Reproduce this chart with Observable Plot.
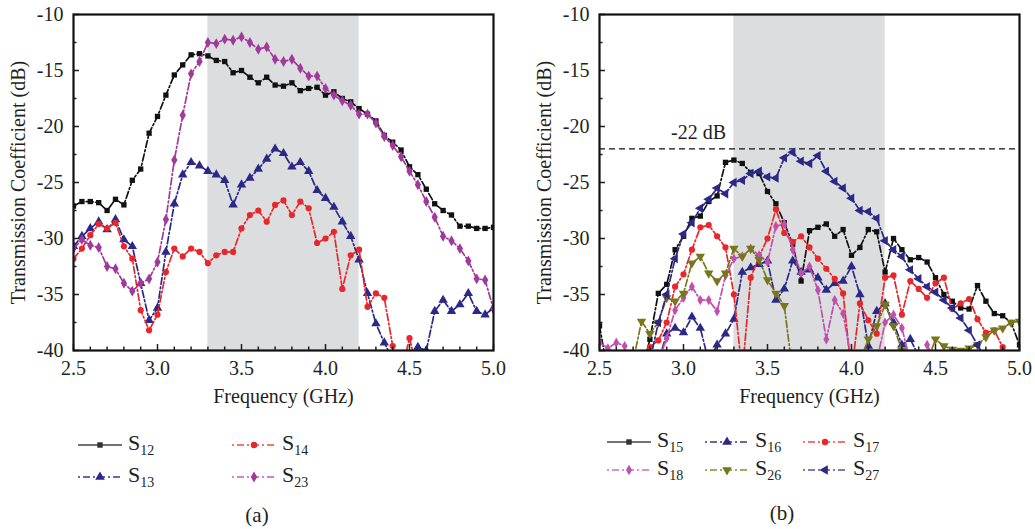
<!DOCTYPE html>
<html><head><meta charset="utf-8">
<script src="https://cdn.jsdelivr.net/npm/d3@7"></script>
<script src="https://cdn.jsdelivr.net/npm/@observablehq/plot@0.6"></script>
<style>
body{margin:0;background:#fff;width:1035px;height:529px;position:relative;overflow:hidden;font-family:"Liberation Serif","DejaVu Serif",serif;color:#231f20}
.panel{position:absolute;top:0}
.panel svg, .panel svg text{font-family:"Liberation Serif","DejaVu Serif",serif !important}
.leg{position:absolute;display:flex;align-items:center;font-size:22px;line-height:1;white-space:nowrap}
.leg sub{font-size:14px;vertical-align:-5px}
.leg svg{margin-right:6px;overflow:visible}
.cap{position:absolute;font-size:21px;transform:translateX(-50%);line-height:1}
</style></head><body>
<div id="pa" class="panel" style="left:0"></div>
<div id="pb" class="panel" style="left:520px"></div>
<script>
// ---------- data ----------
const freq = [2.5,2.55,2.6,2.65,2.7,2.75,2.8,2.85,2.9,2.95,3.0,3.05,3.1,3.15,3.2,3.25,3.3,3.35,3.4,3.45,3.5,3.55,3.6,3.65,3.7,3.75,3.8,3.85,3.9,3.95,4.0,4.05,4.1,4.15,4.2,4.25,4.3,4.35,4.4,4.45,4.5,4.55,4.6,4.65,4.7,4.75,4.8,4.85,4.9,4.95,5.0];
const N = NaN;
// panel (a)
const s12 = [-27.1,-26.7,-26.7,-26.8,-27.5,-26.5,-27.0,-24.8,-23.8,-20.6,-19.1,-17.2,-15.4,-14.5,-13.6,-13.5,-13.7,-14.1,-14.2,-15.2,-15.0,-15.6,-16.1,-15.6,-16.3,-16.4,-16.1,-16.8,-16.6,-16.5,-17.2,-16.9,-17.5,-17.8,-18.4,-18.9,-19.5,-20.8,-21.4,-22.1,-23.6,-24.3,-25.6,-26.9,-27.5,-27.9,-28.9,-28.9,-29.1,-29.1,-29.0];
const s13 = [-30.7,-29.8,-29.1,-28.5,-29.2,-28.3,-30.1,-30.7,-34.0,-37.3,-36.2,-31.2,-26.9,-24.3,-23.2,-23.5,-24.0,-24.3,-24.8,-27.0,-25.2,-24.6,-23.8,-22.9,-22.0,-22.4,-23.6,-23.2,-24.0,-25.7,-26.4,-27.2,-28.5,-29.8,-31.9,-34.9,-37.6,-39.3,-40.8,-41.5,-41.0,-39.7,-40.0,-36.5,-35.5,-36.5,-35.9,-34.9,-36.5,-36.8,-36.2];
const s14 = [-31.8,-30.9,-29.7,-28.7,-29.1,-28.6,-30.7,-31.8,-36.4,-38.2,-36.8,-33.0,-30.9,-31.6,-30.9,-31.2,-32.2,-31.5,-31.2,-31.2,-29.1,-27.9,-27.5,-28.5,-27.0,-26.6,-27.9,-26.7,-27.3,-30.4,-30.0,-29.4,-34.5,-31.5,-31.0,-36.1,-34.9,-35.3,-39.6,-42,-38.9,-42,N,N,N,N,N,N,N,N,N];
const s23 = [-30.9,-30.1,-30.6,-30.8,-32.5,-32.7,-34.0,-34.7,-34.0,-33.6,-32.1,-28.3,-23.0,-19.0,-15.3,-14.2,-12.5,-12.6,-12.2,-12.3,-12.0,-12.5,-13.1,-12.9,-14.0,-14.2,-14.0,-14.8,-15.5,-15.5,-16.6,-17.2,-17.7,-18.1,-18.9,-18.9,-19.7,-20.9,-21.7,-22.7,-24.0,-25.2,-26.7,-28.1,-29.8,-30.2,-30.9,-32.0,-33.6,-33.7,-36.3];
// panel (b)
const s15 = [-37.8,-42,N,N,N,-42,-39.0,-34.9,-34.1,-31.0,-29.8,-28.2,-28.0,-26.7,-26.2,-23.2,-23.0,-23.3,-24.1,-24.2,-25.8,-26.9,-28.6,-30.5,-33.8,-29.3,-29.0,-28.7,-29.8,-29.2,-31.5,-30.8,-29.2,-29.4,-33.0,-30.0,-31.0,-31.9,-31.7,-32.1,-33.5,-35.0,-35.6,-36.2,-36.3,-34.2,-35.6,-36.7,-36.9,-37.5,-39.5];
const s16 = [N,N,N,N,N,N,N,-41,-38.5,-38.0,-38.4,-37.0,-38.0,-41,-39.5,-38.5,-37.2,-33.0,-32.6,-32.3,-32.0,-35.5,-34.5,-32.0,-33.0,-32.8,-33.5,-34.6,-34.0,-33.8,-32.5,-35.0,-39.6,-36.5,-35.8,-37.5,-39.5,-39.0,-40.5,-41,N,N,N,N,N,N,N,N,N,N,N];
const s17 = [N,N,N,N,N,-41,-39.7,-39.1,-37.5,-34.3,-33.2,-31.0,-29.0,-28.8,-29.8,-30.8,-35.0,-42,-33.5,-31.6,-30.0,-27.4,-29.5,-30.3,-29.8,-30.8,-31.8,-32.7,-33.6,-34.9,-42,-35.8,-37.3,-38.5,-33.5,-33.3,-36.8,-33.8,-34.5,-35.3,-34.0,-33.5,-36.3,-35.8,-35.4,-37.2,-38.4,-38.2,-39.7,-41,N];
const s18 = [-39.3,-39.8,-39.3,-39.6,N,N,N,-41,-38.9,-36.4,-35.3,-34.3,-35.5,-35.5,-36.5,-33.3,-31.8,-31.6,-30.9,-31.5,-32.1,-28.9,-28.7,-31.0,-33.1,-32.5,-34.6,-39.0,-35.5,-36.7,-41,N,N,-41,-37.5,-36.8,-38.0,-41,N,-39.5,-41,N,N,N,N,N,N,N,N,N,N];
const s26 = [N,N,N,N,-41,-37.4,-38.5,-37.5,-35.3,-35.6,-34.9,-32.2,-31.6,-33.1,-33.8,-33.1,-30.9,-31.6,-30.9,-31.9,-33.7,-34.9,-36.0,-42,N,N,N,N,N,N,N,-41,-39.0,-37.8,-35.9,-37.8,-40.0,-41,N,-41,-39.0,-39.6,-39.9,-40.0,-39.8,-39.5,-38.8,-38.2,-38.0,-37.5,-37.4];
const s27 = [N,N,N,N,N,N,-41,-37.5,-35.0,-31.8,-29.6,-28.6,-27.3,-26.5,-25.5,-26.0,-25.0,-24.8,-24.2,-24.0,-24.5,-24.6,-22.8,-22.3,-23.1,-23.3,-22.6,-24.0,-24.9,-25.5,-26.4,-27.5,-27.6,-28.2,-30.2,-31.0,-31.6,-32.8,-33.6,-34.3,-34.8,-35.5,-36.2,-37.1,-38.2,-39.5,-41,N,N,N,N];
// axes / annotations
const xDomain = [2.5, 5.0];
const yDomain = [-40, -10];
const xMajor = [2.5,3.0,3.5,4.0,4.5,5.0];
const xMinor = [2.6,2.7,2.8,2.9,3.1,3.2,3.3,3.4,3.6,3.7,3.8,3.9,4.1,4.2,4.3,4.4,4.6,4.7,4.8,4.9];
const yMajor = [-40,-35,-30,-25,-20,-15,-10];
const yMinor = [-37.5,-32.5,-27.5,-22.5,-17.5,-12.5];
const band = [{x1: 3.3, x2: 4.2}];
const refDb = [-22];
const refLabel = [{f: 3.09, db: -22, text: "-22 dB"}];

const FONT = "Liberation Serif";

// ---------- symbols ----------
function tri(angle){
  return {draw(ctx, size){
    const y = -Math.sqrt(size / (Math.sqrt(3) * 3));
    const pts = [[0, 2*y], [-Math.sqrt(3)*y, -y], [Math.sqrt(3)*y, -y]];
    const c = Math.cos(angle), s = Math.sin(angle);
    pts.forEach(([px,py],i)=>{const X = px*c - py*s, Y = px*s + py*c; i ? ctx.lineTo(X,Y) : ctx.moveTo(X,Y);});
    ctx.closePath();
  }};
}
const SYM = {
  square: d3.symbolSquare, circle: d3.symbolCircle, diamond: d3.symbolDiamond,
  up: tri(0), down: tri(Math.PI), left: tri(-Math.PI/2)
};
const DASH = "7,2.5,1.8,2.5";

const seriesA = [
  {key:"12", values:s12, color:"#111111", sym:"square", r:3.0, legDash:null, legColor:"#444"},
  {key:"13", values:s13, color:"#2c2887", sym:"up", r:3.5, legDash:"2,3,7,3", legColor:"#3a3690"},
  {key:"14", values:s14, color:"#e8262b", sym:"circle", r:3.1, legDash:"2,3,7,3", legColor:"#ee4b44"},
  {key:"23", values:s23, color:"#a1389c", sym:"diamond", r:3.3, legDash:"2,3,7,3", legColor:"#c25db2"}
];
const seriesB = [
  {key:"15", values:s15, color:"#111111", sym:"square", r:3.0, legDash:null, legColor:"#444"},
  {key:"16", values:s16, color:"#2c2887", sym:"up", r:3.5, legDash:"2,3,7,3", legColor:"#3a3690"},
  {key:"17", values:s17, color:"#e8262b", sym:"circle", r:3.1, legDash:"2,3,7,3", legColor:"#ee4b44"},
  {key:"18", values:s18, color:"#c04fae", sym:"diamond", r:3.1, legDash:"2,3,7,3", legColor:"#cc6dbb"},
  {key:"26", values:s26, color:"#77761b", sym:"down", r:3.5, legDash:"2,3,7,3", legColor:"#8c8b2e"},
  {key:"27", values:s27, color:"#2c2887", sym:"left", r:3.5, legDash:"2,3,7,3", legColor:"#5552a2"}
];

function buildPanel({width, marginLeft, marginRight, series, withRef}) {
  const marks = [
    Plot.rect(band, {x1:"x1", x2:"x2", fill:"#dcddde"})
  ];
  if (withRef) {
    marks.push(Plot.ruleY(refDb, {stroke:"#111", strokeWidth:1.4, strokeDasharray:"6,4"}));
    marks.push(Plot.text(refLabel, {x:"f", y:"db", text:"text", dy:-16, fontSize:20, fontFamily:FONT, fill:"#231f20"}));
  }
  for (const s of series) {
    const rows = freq.map((f,i)=>({f, v:s.values[i]}));
    marks.push(Plot.line(rows, {x:"f", y:"v", stroke:s.color, strokeWidth:1.7, strokeDasharray:DASH, clip:true}));
    marks.push(Plot.dot(rows.filter(d=>!isNaN(d.v)), {x:"f", y:"v", fill:s.color, stroke:"none", symbol:SYM[s.sym], r:s.r, clip:true}));
  }
  marks.push(
    Plot.axisX({ticks:xMajor, tickSize:0, tickPadding:10, tickFormat:d=>d.toFixed(1), fontSize:20, fontFamily:FONT, fill:"#231f20",
      label:"Frequency (GHz)", labelAnchor:"center", labelOffset:52, labelArrow:"none"}),
    Plot.axisX({ticks:xMajor, tickSize:-6, tickFormat:()=>"", label:null, strokeWidth:1.5}),
    Plot.axisX({ticks:xMinor, tickSize:-3.5, tickFormat:()=>"", label:null, strokeWidth:1.5}),
    Plot.axisY({ticks:yMajor, tickSize:0, tickPadding:10, tickFormat:d=>String(d), fontSize:20, fontFamily:FONT, fill:"#231f20",
      label:"Transmission Coefficient (dB)", labelAnchor:"center", labelOffset:63, labelArrow:"none"}),
    Plot.axisY({ticks:yMajor, tickSize:-6, tickFormat:()=>"", label:null, strokeWidth:1.5}),
    Plot.axisY({ticks:yMinor, tickSize:-3.5, tickFormat:()=>"", label:null, strokeWidth:1.5}),
    Plot.frame({stroke:"#111", strokeWidth:2.2})
  );
  return Plot.plot({
    width, height:415, marginLeft, marginRight, marginTop:14, marginBottom:65,
    x:{domain:xDomain}, y:{domain:yDomain},
    style:{fontFamily:"Liberation Serif, DejaVu Serif, serif", fontSize:"21px", color:"#231f20", background:"transparent", overflow:"visible"},
    marks
  });
}

document.getElementById("pa").append(buildPanel({width:520, marginLeft:73, marginRight:27, series:seriesA, withRef:false}));
document.getElementById("pb").append(buildPanel({width:515, marginLeft:79, marginRight:16, series:seriesB, withRef:true}));

// ---------- legends ----------
function legendItem(s, x, y) {
  const div = document.createElement("div");
  div.className = "leg";
  div.style.left = x + "px";
  div.style.top = (y - 13) + "px";
  const svg = d3.create("svg").attr("width", 44).attr("height", 14);
  const ln = svg.append("line").attr("x1",0).attr("x2",44).attr("y1",7).attr("y2",7)
    .attr("stroke", s.legColor).attr("stroke-width", 1.4);
  if (s.legDash) ln.attr("stroke-dasharray", s.legDash);
  svg.append("path").attr("transform","translate(22,7)")
    .attr("d", d3.symbol(SYM[s.sym], Math.PI * s.r * s.r * 1.05)()).attr("fill", s.legColor === "#444" ? "#333" : s.color);
  div.append(svg.node());
  const t = document.createElement("span");
  t.innerHTML = "S<sub>" + s.key + "</sub>";
  div.append(t);
  document.body.append(div);
}
const legPosA = [[78,445],[232,445],[78,477],[232,477]];
const legOrderA = ["12","14","13","23"];
legOrderA.forEach((k,i)=>legendItem(seriesA.find(s=>s.key===k), legPosA[i][0], legPosA[i][1]));
const legPosB = [[607,442],[705,442],[803,442],[607,470],[705,470],[803,470]];
const legOrderB = ["15","16","17","18","26","27"];
legOrderB.forEach((k,i)=>legendItem(seriesB.find(s=>s.key===k), legPosB[i][0], legPosB[i][1]));

const captions = [{text:"(a)", x:257, y:505}, {text:"(b)", x:782, y:503}];
for (const c of captions) {
  const d = document.createElement("div");
  d.className = "cap"; d.textContent = c.text;
  d.style.left = c.x + "px"; d.style.top = c.y + "px";
  document.body.append(d);
}
</script>
</body></html>
